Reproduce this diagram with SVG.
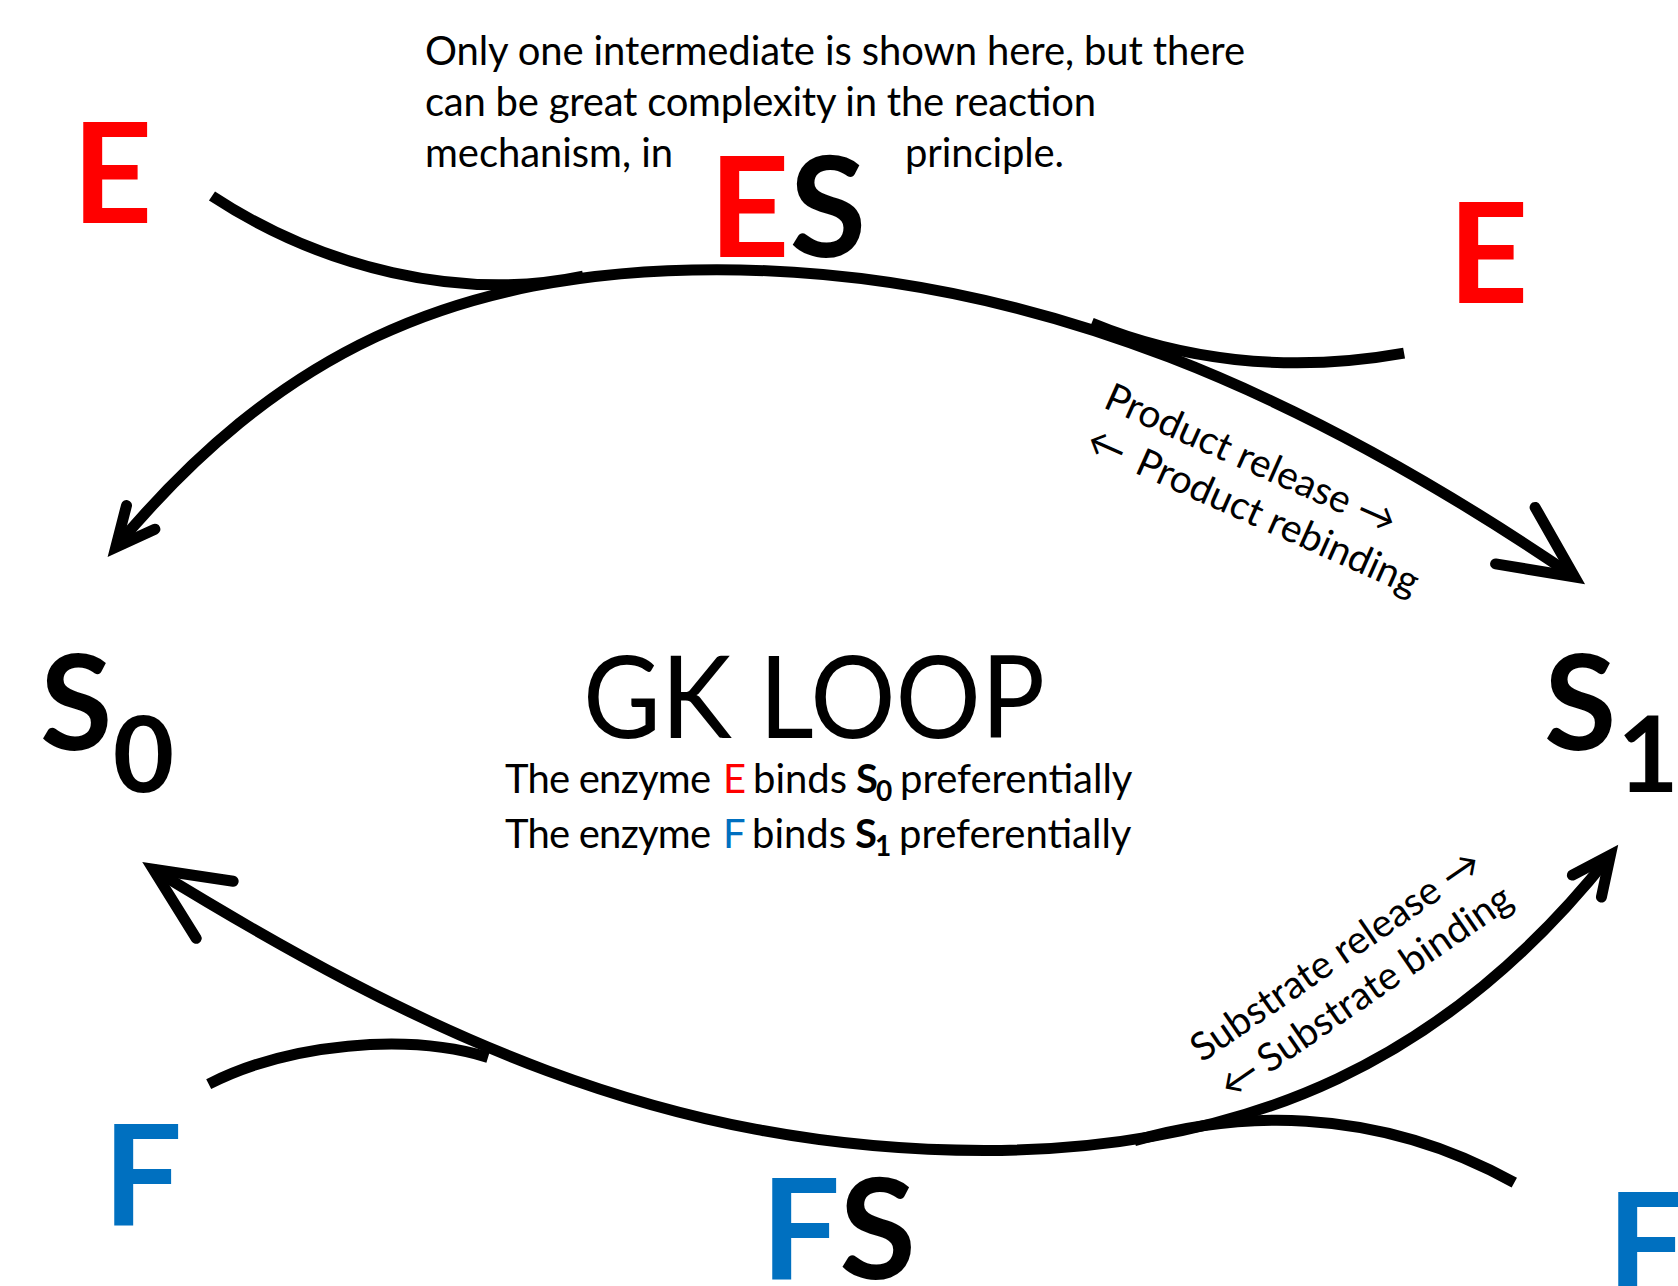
<svg xmlns="http://www.w3.org/2000/svg" width="1678" height="1286" viewBox="0 0 1678 1286">
<style>
  .t{font-family:Lato,"Liberation Sans",sans-serif;fill:#000}
  .body{font-size:40px}
  .big{font-size:140px;font-weight:700}
  .sbig{font-size:132px;font-weight:700}
  .sub{font-size:106px;font-weight:700}
  .lbl{font-size:39px}
  .red{fill:#FF0000}
  .blue{fill:#0070C0}
  .b{font-weight:700}
  .ln{fill:none;stroke:#000;stroke-width:11;stroke-linecap:butt}
  .ah{fill:none;stroke:#000;stroke-width:11;stroke-linecap:round;stroke-linejoin:miter;stroke-miterlimit:10}
</style>
<rect x="0" y="0" width="1678" height="1286" fill="#fff"/>

<g id="connectors">
  <path class="ln" d="M115.8,547.1 C275,356.4 449.5,269.7 717,269.7 C1038.1,269.7 1316.3,400.7 1574.6,576.9"/>
  <polyline class="ah" points="126.5,505.5 115.8,547.1 154.9,529.2"/>
  <polyline class="ah" points="1535.1,507.4 1574.6,576.9 1495.6,563.9"/>
  <path class="ln" d="M153.2,869.3 C417.4,1031.7 663.5,1150.5 984.6,1150.5 C1252.1,1150.5 1450.1,1057.4 1610.4,855.1"/>
  <polyline class="ah" points="233.2,881.3 153.2,869.3 196.2,938.3"/>
  <polyline class="ah" points="1601.4,897.1 1610.4,855.1 1572.4,875.1"/>
  <path class="ln" d="M212,196 C321,267.6 460,302 583.3,276.1"/>
  <path class="ln" d="M1091.6,323.2 C1177.2,358.5 1284.2,374.6 1404.1,353.2"/>
  <path class="ln" d="M208.7,1084.1 C289,1043.4 406.7,1032.7 488,1057.4"/>
  <path class="ln" d="M1134.4,1140.8 C1230.7,1113 1369.9,1102.3 1514.3,1182.6"/>
</g>

<g id="note">
  <text class="t body" x="425" y="65" textLength="820">Only one intermediate is shown here, but there</text>
  <text class="t body" x="425" y="116" textLength="671">can be great complexity in the reaction</text>
  <text class="t body" y="167"><tspan x="425" textLength="248">mechanism, in</tspan><tspan x="905" textLength="159">principle.</tspan></text>
</g>

<g id="node-E-left"><text class="t big red" x="72" y="223">E</text></g>
<g id="node-ES"><text class="t big" x="709" y="257"><tspan class="red">E</tspan>S</text></g>
<g id="node-E-right"><text class="t big red" x="1448" y="303">E</text></g>

<g id="node-S0">
  <text class="t sbig" x="40" y="750">S</text>
  <text class="t sub" x="143.5" y="792" text-anchor="middle">0</text>
</g>
<g id="node-S1">
  <text class="t sbig" x="1544" y="750">S</text>
  <text class="t sub" x="1648" y="792" text-anchor="middle">1</text>
</g>

<g id="node-F-left"><text class="t big blue" x="103" y="1225">F</text></g>
<g id="node-FS"><text class="t big" x="761" y="1279"><tspan class="blue">F</tspan>S</text></g>
<g id="node-F-right"><text class="t big blue" x="1607" y="1293">F</text></g>

<g id="title">
  <text class="t" x="583" y="738" font-size="114" textLength="462" lengthAdjust="spacingAndGlyphs">GK LOOP</text>
  <text class="t body" y="793"><tspan x="505" textLength="206">The enzyme</tspan><tspan x="723" class="red">E</tspan><tspan x="753">binds</tspan><tspan x="856" class="b">S</tspan><tspan x="876" y="801" class="b" font-size="28">0</tspan><tspan x="900" y="793">preferentially</tspan></text>
  <text class="t body" y="848"><tspan x="505" textLength="206">The enzyme</tspan><tspan x="723" class="blue">F</tspan><tspan x="752">binds</tspan><tspan x="855" class="b">S</tspan><tspan x="875" y="856" class="b" font-size="28">1</tspan><tspan x="899" y="848">preferentially</tspan></text>
</g>

<g id="label-product" transform="translate(1102,407) rotate(24)">
  <text class="t lbl" x="0" y="0">Product release →</text>
  <text class="t lbl" y="47"><tspan x="1">←</tspan><tspan x="55">Product rebinding</tspan></text>
</g>
<g id="label-substrate" transform="translate(1202,1063) rotate(-34.5)">
  <text class="t lbl" x="0" y="0">Substrate release →</text>
  <text class="t lbl" y="47"><tspan x="3">←</tspan><tspan x="49">Substrate binding</tspan></text>
</g>
</svg>
